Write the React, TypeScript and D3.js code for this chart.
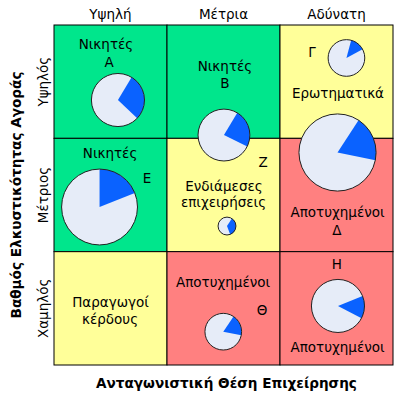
import * as d3 from 'd3';
import React from 'react';

// GE / McKinsey matrix
const columns = ['Υψηλή', 'Μέτρια', 'Αδύνατη'];
const rows = ['Υψηλός', 'Μέτριος', 'Χαμηλός'];
const zones = [
  ['win', 'win', 'mid'],
  ['win', 'mid', 'lose'],
  ['mid', 'lose', 'lose'],
];

// pies: position on grid (column units, row units), market size, share, start angle (deg)
const pieNames = ['Α', 'Β', 'Γ', 'Δ', 'Ε', 'Ζ', 'Θ', 'Η'];
const pieX = [0.566, 1.504, 2.588, 2.509, 0.403, 1.531, 1.498, 2.513];
const pieY = [0.662, 0.971, 0.291, 1.125, 1.606, 1.774, 2.706, 2.479];
const pieSize = [44, 42, 21, 93, 90, 5, 21, 44];
const pieShare = [0.285, 0.236, 0.13, 0.19, 0.19, 0.35, 0.186, 0.137];
const pieStart = [31, 31, 15, 33, 0, 33, 34, 68];

// text inside cells
const labelText = [
  'Νικητές', 'Α', 'Νικητές', 'Β', 'Γ', 'Ερωτηματικά', 'Νικητές', 'Ε', 'Ζ',
  'Ενδιάμεσες', 'επιχειρήσεις', 'Αποτυχημένοι', 'Δ', 'Παραγωγοί', 'κέρδους',
  'Αποτυχημένοι', 'Θ', 'Η', 'Αποτυχημένοι',
];
const labelX = [
  0.46, 0.487, 1.513, 1.513, 2.283, 2.513, 0.496, 0.823, 1.85,
  1.504, 1.5, 2.509, 2.504, 0.5, 0.496,
  1.496, 1.841, 2.504, 2.509,
];
const labelY = [
  0.212, 0.371, 0.406, 0.556, 0.282, 0.644, 1.174, 1.394, 1.253,
  1.468, 1.603, 1.694, 1.853, 2.488, 2.638,
  2.312, 2.559, 2.153, 2.885,
];

const zoneColor: Record<string, string> = { win: '#00E68C', mid: '#FFFF99', lose: '#FF8080' };

export default function App() {
  const width = 395;
  const height = 393;
  const font = '"DejaVu Sans", Verdana, sans-serif';

  const x = d3.scaleLinear().domain([0, 3]).range([54, 393]);
  const y = d3.scaleLinear().domain([0, 3]).range([25, 365]);
  const r = d3.scaleSqrt().domain([0, 100]).range([0, 40]);
  const arc = d3.arc<{ r: number; s: number; e: number }>()
    .innerRadius(0)
    .outerRadius(d => d.r)
    .startAngle(d => d.s)
    .endAngle(d => d.e);

  return (
    <svg
      width={width}
      height={height}
      style={{ position: 'absolute', left: 0, top: 0, background: '#fff' }}
      fontFamily={font}
    >
      {zones.map((row, ri) =>
        row.map((z, ci) => (
          <rect
            key={`${ri}-${ci}`}
            x={x(ci)}
            y={y(ri)}
            width={x(ci + 1) - x(ci)}
            height={y(ri + 1) - y(ri)}
            fill={zoneColor[z]}
            stroke="#000"
            strokeWidth={1}
          />
        ))
      )}

      {columns.map((c, i) => (
        <text key={c} x={x(i + 0.5)} y={19} textAnchor="middle" fontSize={13.5} fill="#000">
          {c}
        </text>
      ))}
      {rows.map((rw, i) => (
        <text
          key={rw}
          transform={`translate(48,${y(i + 0.5)}) rotate(-90)`}
          textAnchor="middle"
          fontSize={13.5}
          fill="#000"
        >
          {rw}
        </text>
      ))}
      <text
        transform={`translate(21,${y(1.5)}) rotate(-90)`}
        textAnchor="middle"
        fontSize={13.6}
        fontWeight="bold"
        fill="#000"
      >
        Βαθμός Ελκυστικότητας Αγοράς
      </text>
      <text x={x(1.5) + 3} y={388} textAnchor="middle" fontSize={13.6} fontWeight="bold" fill="#000">
        Ανταγωνιστική Θέση Επιχείρησης
      </text>

      {labelText.map((t, i) => (
        <text key={i} x={x(labelX[i])} y={y(labelY[i])} textAnchor="middle" fontSize={13.5} fill="#000">
          {t}
        </text>
      ))}

      {pieNames.map((n, i) => {
        const rad = r(pieSize[i]);
        const s = (pieStart[i] * Math.PI) / 180;
        const e = s + pieShare[i] * 2 * Math.PI;
        return (
          <g key={n} transform={`translate(${x(pieX[i])},${y(pieY[i])})`}>
            <circle r={rad} fill="#E6ECF8" />
            <path d={arc({ r: rad, s, e }) || ''} fill="#0A62FF" />
            <circle r={rad} fill="none" stroke="#222" strokeWidth={1} />
          </g>
        );
      })}
    </svg>
  );
}
